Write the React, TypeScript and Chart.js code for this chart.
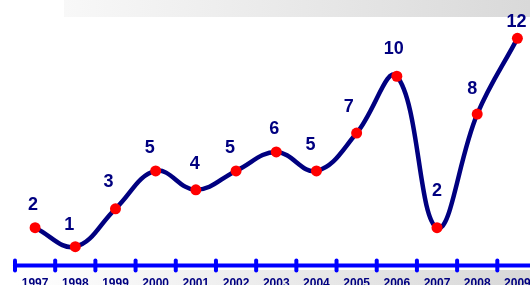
import React, { useEffect, useRef } from "react";
import { Chart, registerables } from "chart.js";

Chart.register(...registerables);

const years = ["1997", "1998", "1999", "2000", "2001", "2002", "2003", "2004", "2005", "2006", "2007", "2008", "2009"];
const values = [2, 1, 3, 5, 4, 5, 6, 5, 7, 10, 2, 8, 12];
// label placement relative to each point (style only)
const labelLift = [23, 22, 27, 23, 26, 23, 23, 26, 26, 27, 37, 25, 16];
const labelShift = [-2, -6, -7, -6, -1, -6, -2, -6, -8, -3, 0, -5, -1];

const NAVY = "#000080";
const BLUE = "#0000ff";
const FONT = "'Liberation Sans', Arial, sans-serif";

const decor = {
  id: "decor",
  beforeDatasetsDraw(chart: any) {
    const ctx = chart.ctx;
    const xs = chart.scales.x;
    const y = chart.chartArea.bottom;
    ctx.save();
    ctx.strokeStyle = BLUE;
    ctx.lineCap = "round";
    ctx.lineWidth = 4;
    ctx.beginPath();
    ctx.moveTo(xs.left, y);
    ctx.lineTo(xs.right, y);
    ctx.stroke();
    const n = years.length;
    for (let i = 0; i <= n; i++) {
      const x = xs.left + (i * xs.width) / n;
      ctx.lineWidth = 4;
      ctx.beginPath();
      ctx.moveTo(x, y - 5);
      ctx.lineTo(x, y + 5);
      ctx.stroke();
    }
    ctx.restore();
  },
  afterDatasetsDraw(chart: any) {
    const ctx = chart.ctx;
    const meta = chart.getDatasetMeta(0);
    ctx.save();
    ctx.font = `bold 18px ${FONT}`;
    ctx.fillStyle = NAVY;
    ctx.textAlign = "center";
    ctx.textBaseline = "middle";
    meta.data.forEach((pt: any, i: number) => {
      ctx.fillText(String(values[i]), pt.x + labelShift[i], pt.y - labelLift[i]);
    });
    ctx.restore();
  },
};

export default function App() {
  const ref = useRef<HTMLCanvasElement | null>(null);
  useEffect(() => {
    if (!ref.current) return;
    const chart = new Chart(ref.current, {
      type: "line",
      data: {
        labels: years,
        datasets: [
          {
            data: values,
            borderColor: NAVY,
            borderWidth: 4.5,
            tension: 0.4,
            pointRadius: 5.5,
            pointBackgroundColor: "#ff0000",
            pointBorderWidth: 0,
            pointBorderColor: "#ff0000",
            clip: false as any,
          },
        ],
      },
      options: {
        animation: false,
        responsive: false,
        devicePixelRatio: 1,
        layout: { padding: { left: 15, right: 0, top: 0, bottom: 0 } },
        plugins: { legend: { display: false }, tooltip: { enabled: false } },
        scales: {
          x: {
            offset: true,
            grid: { display: false, drawTicks: false, offset: true },
            border: { display: false },
            ticks: {
              color: NAVY,
              font: { family: FONT, size: 12, weight: "bold" },
              padding: 11,
              maxRotation: 0,
              autoSkip: false,
            },
          },
          y: { display: false, min: 0, max: 14 },
        },
      },
      plugins: [decor],
    });
    return () => chart.destroy();
  }, []);

  return (
    <div
      style={{
        position: "fixed",
        left: 0,
        top: 0,
        width: 530,
        height: 285,
        overflow: "hidden",
        background: "#ffffff",
      }}
    >
      <div
        style={{
          position: "absolute",
          left: 0,
          top: 0,
          width: 530,
          height: 17,
          background: "linear-gradient(to right, #ffffff 0%, #ffffff 12%, #f8f8f8 12%, #d9d9d9 100%)",
        }}
      />
      <div
        style={{
          position: "absolute",
          left: 0,
          top: 270,
          width: 530,
          height: 15,
          background: "linear-gradient(to right, #ffffff 3%, #d8d8d8 100%)",
        }}
      />
      <canvas ref={ref} width={543} height={307} style={{ position: "absolute", left: 0, top: -5 }} />
    </div>
  );
}
